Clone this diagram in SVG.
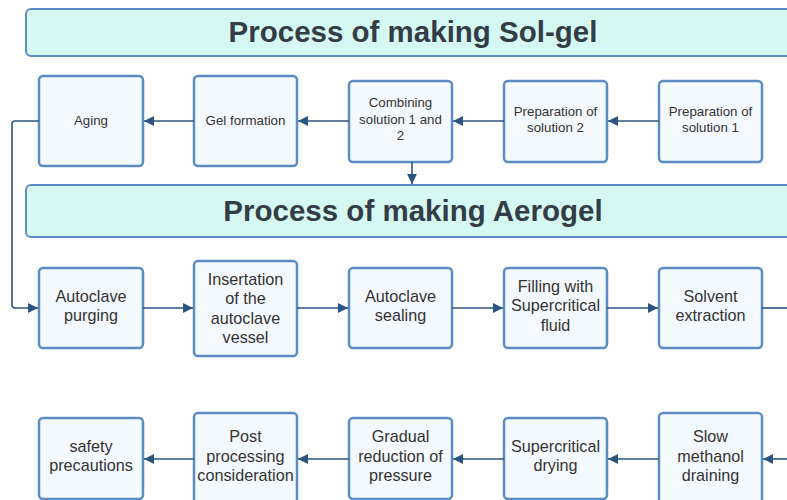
<svg xmlns="http://www.w3.org/2000/svg" width="787" height="500" viewBox="0 0 787 500">
<style>
.title rect{fill:#d6f8f2;stroke:#5b8cc4;stroke-width:2}
.title text{font-family:"Liberation Sans",Arial,sans-serif;font-weight:bold;font-size:29.5px;fill:#333d47;text-anchor:middle}
.node rect{fill:#f4f9fe;stroke:#5b8cc4;stroke-width:2.5}
.node text{font-family:"Liberation Sans",Arial,sans-serif;fill:#333;text-anchor:middle}
.s text{font-size:13.3px}
.b text{font-size:16.2px}
.conn path{fill:none;stroke:#2b5580;stroke-width:1.6}
</style>
<defs>
<marker id="ah" viewBox="0 0 10 10" refX="10" refY="5" markerWidth="10" markerHeight="10" markerUnits="userSpaceOnUse" orient="auto">
<path d="M0,0 L10,5 L0,10 Z" fill="#2b5580"/>
</marker>
</defs>
<rect width="787" height="500" fill="#ffffff"/>
<g id="title-solgel" class="title"><rect x="26" y="9" width="780" height="47" rx="5"/><text x="413" y="42">Process of making Sol-gel</text></g>
<g id="title-aerogel" class="title"><rect x="26" y="185" width="780" height="52" rx="5"/><text x="413" y="221">Process of making Aerogel</text></g>

<g id="aging" class="node s"><rect x="39" y="76" width="104" height="90" rx="4"/><text x="91" y="125">Aging</text></g>
<g id="gel-formation" class="node s"><rect x="194" y="76" width="103" height="90" rx="4"/><text x="245.5" y="125">Gel formation</text></g>
<g id="combining" class="node s"><rect x="349" y="81" width="103" height="81" rx="4"/><text x="400.5" y="107">Combining</text><text x="400.5" y="124">solution 1 and</text><text x="400.5" y="140">2</text></g>
<g id="prep2" class="node s"><rect x="504" y="81" width="103" height="81" rx="4"/><text x="555.5" y="116">Preparation of</text><text x="555.5" y="132">solution 2</text></g>
<g id="prep1" class="node s"><rect x="659" y="81" width="103" height="81" rx="4"/><text x="710.5" y="116">Preparation of</text><text x="710.5" y="132">solution 1</text></g>

<g id="autoclave-purging" class="node b"><rect x="39" y="268" width="104" height="80" rx="4"/><text x="91" y="302">Autoclave</text><text x="91" y="321">purging</text></g>
<g id="insertation" class="node b"><rect x="194" y="261" width="103" height="95" rx="4"/><text x="245.5" y="285">Insertation</text><text x="245.5" y="304">of the</text><text x="245.5" y="324">autoclave</text><text x="245.5" y="343">vessel</text></g>
<g id="autoclave-sealing" class="node b"><rect x="349" y="268" width="103" height="80" rx="4"/><text x="400.5" y="302">Autoclave</text><text x="400.5" y="321">sealing</text></g>
<g id="filling" class="node b"><rect x="504" y="268" width="103" height="80" rx="4"/><text x="555.5" y="292">Filling with</text><text x="555.5" y="311">Supercritical</text><text x="555.5" y="331">fluid</text></g>
<g id="solvent-extraction" class="node b"><rect x="659" y="268" width="103" height="80" rx="4"/><text x="710.5" y="302">Solvent</text><text x="710.5" y="321">extraction</text></g>

<g id="safety" class="node b"><rect x="39" y="418" width="104" height="81" rx="4"/><text x="91" y="452">safety</text><text x="91" y="471">precautions</text></g>
<g id="post-processing" class="node b"><rect x="194" y="413" width="103" height="95" rx="4"/><text x="245.5" y="442">Post</text><text x="245.5" y="462">processing</text><text x="245.5" y="481">consideration</text></g>
<g id="gradual-reduction" class="node b"><rect x="349" y="418" width="103" height="81" rx="4"/><text x="400.5" y="442">Gradual</text><text x="400.5" y="462">reduction of</text><text x="400.5" y="481">pressure</text></g>
<g id="supercritical-drying" class="node b"><rect x="504" y="418" width="103" height="81" rx="4"/><text x="555.5" y="452">Supercritical</text><text x="555.5" y="471">drying</text></g>
<g id="slow-methanol" class="node b"><rect x="659" y="413" width="103" height="95" rx="4"/><text x="710.5" y="442">Slow</text><text x="710.5" y="462">methanol</text><text x="710.5" y="481">draining</text></g>

<g id="connectors" class="conn">
<path d="M659,121 H608" marker-end="url(#ah)"/>
<path d="M504,121 H453" marker-end="url(#ah)"/>
<path d="M349,121 H298" marker-end="url(#ah)"/>
<path d="M194,121 H144" marker-end="url(#ah)"/>
<path d="M412,162 V184" marker-end="url(#ah)"/>
<path d="M39,121 H15 Q12,121 12,124 V305 Q12,308 15,308 H38" marker-end="url(#ah)"/>
<path d="M143,308 H193" marker-end="url(#ah)"/>
<path d="M297,308 H348" marker-end="url(#ah)"/>
<path d="M452,308 H503" marker-end="url(#ah)"/>
<path d="M607,308 H658" marker-end="url(#ah)"/>
<path d="M762,308 H790"/>
<path d="M790,459 H763" marker-end="url(#ah)"/>
<path d="M659,459 H608" marker-end="url(#ah)"/>
<path d="M504,459 H453" marker-end="url(#ah)"/>
<path d="M349,459 H298" marker-end="url(#ah)"/>
<path d="M194,459 H144" marker-end="url(#ah)"/>
</g>
</svg>
